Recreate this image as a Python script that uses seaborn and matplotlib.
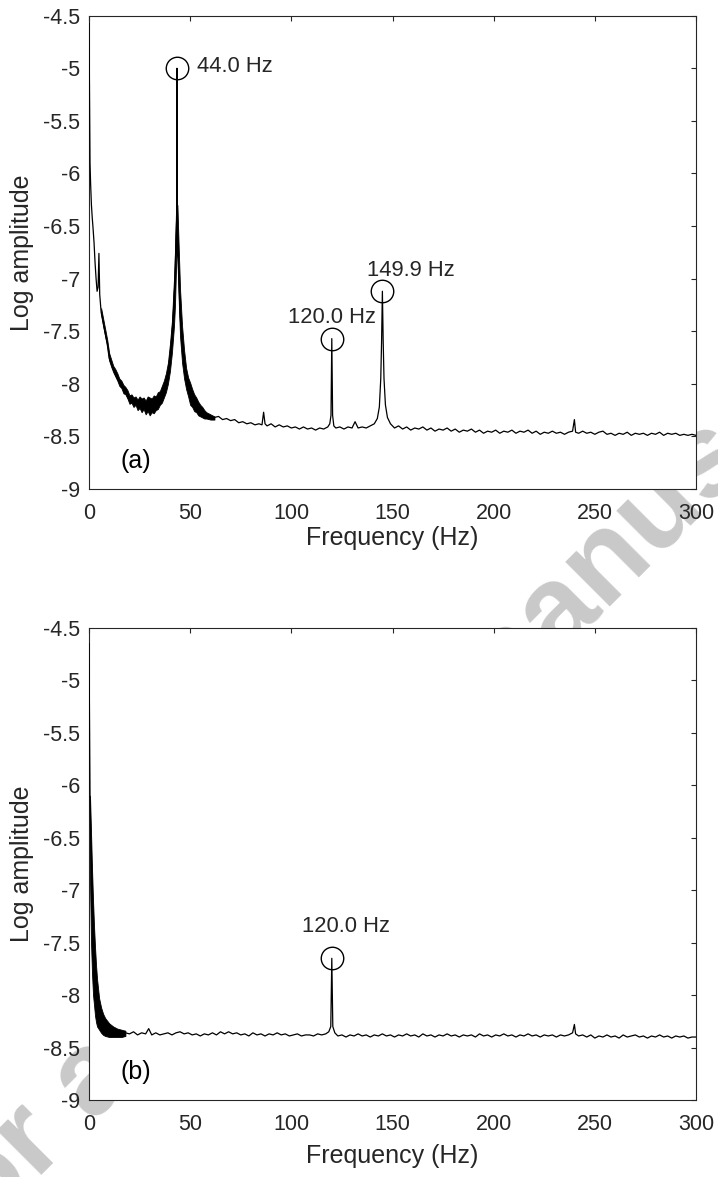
import numpy as np
import matplotlib
matplotlib.use("Agg")
import matplotlib.pyplot as plt
import seaborn as sns

# ---------------- data ----------------
# Panel (a): spectrum trace
freq_a = [0, 0.25, 0.5, 0.8, 1.2, 1.6, 2.0, 2.5, 3.0, 3.5, 4.0, 4.5, 4.9, 5.3, 6, 7, 8, 9, 10,
          12, 14, 16, 18, 20, 22, 24, 26, 28, 30, 32, 34, 36, 38, 39, 40, 41, 42, 42.5, 43, 43.3,
          43.5, 43.7, 44, 44.5, 45, 46, 47, 48, 50, 52, 55, 58, 60,
          62, 64, 66, 68, 70, 72, 74, 76, 78, 80, 82, 84, 85.5, 86.3, 87, 88, 90, 92, 94, 96, 98,
          100, 102, 104, 106, 108, 110, 112, 114, 116, 118, 119, 119.6, 120, 120.4, 121, 122,
          124, 126, 128, 130, 131.5, 133, 135, 137, 139, 141, 142.5, 143.5, 144.2, 144.6, 145,
          145.4, 145.8, 146.5, 147.5, 149, 151, 153, 155, 157, 159, 161, 163, 165, 167, 169, 171,
          173, 175, 177, 179, 181, 183, 185, 187, 189, 191, 193, 195, 197, 199, 201, 203, 205,
          207, 209, 211, 213, 215, 217, 219, 221, 223, 225, 227, 229, 231, 233, 235, 237, 239,
          239.9, 240.5, 242, 244, 246, 248, 250, 252, 254, 256, 258, 260, 262, 264, 266, 268,
          270, 272, 274, 276, 278, 280, 282, 284, 286, 288, 290, 292, 294, 296, 298, 300]
amp_a = [-4.57, -5.3, -5.9, -6.1, -6.3, -6.42, -6.52, -6.66, -6.85, -7.0, -7.12, -7.08, -6.76,
         -7.15, -7.32, -7.42, -7.52, -7.62, -7.76,
         -7.86, -7.95, -8.02, -8.08, -8.16, -8.18, -8.2, -8.21, -8.22, -8.22, -8.2, -8.16, -8.1,
         -7.99, -7.9, -7.75, -7.55, -7.22, -7.0, -6.6, -6.45,
         -5.0, -6.5, -6.75, -7.05, -7.33, -7.62, -7.82, -7.95, -8.1, -8.18, -8.26, -8.3, -8.31,
         -8.32, -8.31, -8.34, -8.33, -8.35, -8.34, -8.37, -8.36, -8.38, -8.37, -8.39, -8.38,
         -8.39, -8.27, -8.38, -8.40, -8.38, -8.41, -8.39, -8.41, -8.40,
         -8.42, -8.41, -8.43, -8.41, -8.43, -8.42, -8.44, -8.42, -8.43, -8.41, -8.38, -8.3,
         -7.57, -8.3, -8.4, -8.42,
         -8.41, -8.43, -8.41, -8.42, -8.36, -8.42, -8.41, -8.42, -8.40, -8.38, -8.33, -8.22,
         -7.95, -7.6, -7.12,
         -7.6, -7.95, -8.2, -8.32, -8.38, -8.42, -8.40, -8.43, -8.41, -8.44, -8.42, -8.43,
         -8.41, -8.44, -8.42, -8.45,
         -8.43, -8.44, -8.42, -8.45, -8.43, -8.46, -8.44, -8.45, -8.43, -8.46, -8.44, -8.47,
         -8.45, -8.46, -8.44, -8.47, -8.45,
         -8.46, -8.44, -8.47, -8.45, -8.46, -8.44, -8.47, -8.45, -8.48, -8.46, -8.47, -8.45,
         -8.47, -8.46, -8.48, -8.46, -8.45,
         -8.34, -8.46, -8.47, -8.45, -8.47, -8.46, -8.48, -8.46, -8.45, -8.48, -8.47, -8.49,
         -8.47, -8.48, -8.46, -8.49,
         -8.47, -8.48, -8.47, -8.49, -8.47, -8.48, -8.46, -8.49, -8.47, -8.48, -8.47, -8.49,
         -8.48, -8.49, -8.48, -8.49]

# Panel (a): thick noisy band around the low-frequency part and the 44 Hz peak
band_freq_a = [6, 7, 8, 9, 10, 11, 12, 13, 14, 15, 16, 17, 18, 19, 20, 21, 22, 23, 24, 25, 26,
               27, 28, 29, 30, 31, 32, 33, 34, 35, 36, 37, 38, 39, 40, 41, 42, 42.5, 43, 43.3,
               43.7, 44, 44.5, 45, 46, 47, 48, 49, 50, 51, 52, 53, 54, 55, 56, 57, 58, 60, 62]
band_hi_a = [-7.28, -7.38, -7.48, -7.58, -7.71, -7.77, -7.83, -7.86, -7.9, -7.95, -7.97, -8.01,
             -8.03, -8.06, -8.11, -8.1, -8.13, -8.12, -8.15, -8.12, -8.14, -8.13, -8.16, -8.12,
             -8.13, -8.14, -8.11, -8.12, -8.08, -8.07, -8.02, -7.97, -7.9, -7.8, -7.62, -7.4,
             -7.0, -6.75, -6.35, -6.3, -6.3, -6.5, -6.8, -7.1, -7.45, -7.68, -7.85, -7.94,
             -7.99, -8.05, -8.1, -8.13, -8.17, -8.2, -8.22, -8.25, -8.27, -8.29, -8.31]
band_lo_a = [-7.34, -7.45, -7.55, -7.64, -7.78, -7.84, -7.89, -7.93, -7.97, -8.02, -8.04, -8.09,
             -8.1, -8.14, -8.19, -8.18, -8.22, -8.2, -8.25, -8.23, -8.27, -8.24, -8.29, -8.26,
             -8.3, -8.27, -8.28, -8.25, -8.24, -8.2, -8.18, -8.13, -8.08, -8.0, -7.88, -7.7,
             -7.45, -7.25, -6.9, -6.7, -6.8, -7.0, -7.3, -7.55, -7.8, -7.95, -8.05, -8.12,
             -8.2, -8.22, -8.26, -8.27, -8.3, -8.31, -8.32, -8.33, -8.33, -8.34, -8.34]

# Panel (b): spectrum trace
freq_b = [0, 0.3, 0.5, 0.8, 1.2, 1.6, 2.0, 2.5, 3.0, 3.5, 4.0, 4.5, 5, 6, 7, 8, 9, 10, 12, 14,
          16, 18, 20, 22, 24, 26, 28, 29.5, 31, 33, 35, 37, 39, 41, 43, 45, 47, 49, 51, 53, 55,
          57, 59, 61, 63, 65, 67, 69, 71, 73, 75, 77, 79, 81, 83, 85, 87, 89, 91, 93, 95, 97, 99,
          101, 103, 105, 107, 109, 111, 113, 115, 117, 118.5, 119.5, 120, 120.5, 121.5, 123,
          125, 127, 129, 131, 133, 135, 137, 139, 141, 143, 145, 147, 149, 151, 153, 155, 157,
          159, 161, 163, 165, 167, 169, 171, 173, 175, 177, 179, 181, 183, 185, 187, 189, 191,
          193, 195, 197, 199, 201, 203, 205, 207, 209, 211, 213, 215, 217, 219, 221, 223, 225,
          227, 229, 231, 233, 235, 237, 239, 239.9, 240.5, 242, 244, 246, 248, 250, 252, 254,
          256, 258, 260, 262, 264, 266, 268, 270, 272, 274, 276, 278, 280, 282, 284, 286, 288,
          290, 292, 294, 296, 298, 300]
amp_b = [-4.65, -5.5, -6.1, -6.45, -6.75, -7.0, -7.25, -7.5, -7.7, -7.85, -7.97, -8.06, -8.12,
         -8.2, -8.24, -8.27, -8.29, -8.31, -8.33, -8.35,
         -8.36, -8.36, -8.37, -8.35, -8.38, -8.36, -8.37, -8.32, -8.38, -8.36, -8.38, -8.37,
         -8.36, -8.38, -8.36, -8.35, -8.37, -8.36, -8.38, -8.37, -8.39,
         -8.37, -8.38, -8.36, -8.38, -8.35, -8.37, -8.35, -8.37, -8.36, -8.38, -8.37, -8.39,
         -8.36, -8.38, -8.37, -8.39, -8.37, -8.38, -8.36, -8.38, -8.37, -8.39,
         -8.38, -8.37, -8.39, -8.38, -8.38, -8.39, -8.37, -8.38, -8.37, -8.35, -8.3, -7.65,
         -8.3, -8.36, -8.39,
         -8.38, -8.40, -8.38, -8.39, -8.37, -8.39, -8.38, -8.40, -8.38, -8.39, -8.37, -8.39,
         -8.38, -8.40, -8.38, -8.39, -8.37,
         -8.39, -8.38, -8.40, -8.37, -8.39, -8.38, -8.40, -8.38, -8.39, -8.37, -8.39, -8.38,
         -8.40, -8.38, -8.39, -8.38, -8.40,
         -8.37, -8.39, -8.38, -8.40, -8.38, -8.39, -8.37, -8.39, -8.38, -8.40, -8.38, -8.39,
         -8.37, -8.39, -8.38, -8.40, -8.38,
         -8.39, -8.38, -8.40, -8.38, -8.39, -8.38, -8.36, -8.28, -8.37, -8.39, -8.38, -8.40,
         -8.38, -8.41, -8.39, -8.40,
         -8.38, -8.40, -8.39, -8.41, -8.38, -8.40, -8.39, -8.38, -8.40, -8.39, -8.41, -8.39,
         -8.40, -8.38, -8.40, -8.39,
         -8.41, -8.39, -8.40, -8.39, -8.41, -8.40, -8.40]

band_freq_b = [0.5, 1, 1.5, 2, 2.5, 3, 3.5, 4, 5, 6, 7, 8, 10, 12, 14, 16, 18]
band_hi_b = [-6.1, -6.45, -6.8, -7.1, -7.35, -7.55, -7.72, -7.85, -8.03, -8.12, -8.18, -8.22,
             -8.27, -8.3, -8.32, -8.33, -8.34]
band_lo_b = [-6.9, -7.5, -7.8, -8.0, -8.1, -8.2, -8.26, -8.3, -8.33, -8.36, -8.38, -8.39,
             -8.4, -8.4, -8.4, -8.4, -8.39]

# Marked peaks
peak_freq_a = [43.5, 120.0, 145.0]
peak_amp_a = [-5.0, -7.57, -7.12]
peak_text_a = ["44.0 Hz", "120.0 Hz", "149.9 Hz"]
peak_freq_b = [120.0]
peak_amp_b = [-7.65]
peak_text_b = ["120.0 Hz"]

panel_tags = ["(a)", "(b)"]
x_ticks = [0, 50, 100, 150, 200, 250, 300]
y_ticks = [-9, -8.5, -8, -7.5, -7, -6.5, -6, -5.5, -5, -4.5]
y_ticklabels = ["-9", "-8.5", "-8", "-7.5", "-7", "-6.5", "-6", "-5.5", "-5", "-4.5"]
x_label = "Frequency (Hz)"
y_label = "Log amplitude"
watermark = "Author accepted manuscript"

# ---------------- styling ----------------
sns.set_style("white")
plt.rcParams["font.family"] = ["Liberation Sans", "DejaVu Sans"]
AX_COL = "#262626"

W, H = 718, 1177
fig = plt.figure(figsize=(W / 100, H / 100), dpi=100)
fig.patch.set_facecolor("white")

ax_a = fig.add_axes([89 / W, 1 - 489 / H, 607 / W, (489 - 15.7) / H])
ax_b = fig.add_axes([89 / W, 1 - 1100 / H, 607 / W, (1100 - 627.7) / H])

# watermark behind the axes
fig.text(-0.2893, -0.2104, watermark, rotation=45, rotation_mode="anchor",
         ha="left", va="baseline", fontsize=86, fontweight="bold",
         color="#c9c9c9", zorder=-5)


def style_axis(ax, xlab_y):
    ax.set_facecolor("white")
    ax.set_xlim(0, 300)
    ax.set_ylim(-9, -4.5)
    ax.set_xticks(x_ticks)
    ax.set_xticklabels([str(t) for t in x_ticks])
    ax.set_yticks(y_ticks)
    ax.set_yticklabels(y_ticklabels)
    for s in ax.spines.values():
        s.set_visible(True)
        s.set_color(AX_COL)
        s.set_linewidth(0.8)
    ax.tick_params(axis="both", which="major", direction="in", length=3.6, width=0.8,
                   color=AX_COL, labelcolor=AX_COL, labelsize=15.5,
                   top=True, right=True)
    ax.tick_params(axis="x", pad=10)
    ax.tick_params(axis="y", pad=6.5)
    ax.set_xlabel(x_label, fontsize=18, color=AX_COL)
    ax.set_ylabel(y_label, fontsize=18, color=AX_COL)
    ax.xaxis.set_label_coords(0.5, xlab_y)
    ax.xaxis.label.set_va("top")
    ax.yaxis.set_label_coords(-0.0914, 0.5)


# panel (a)
ax_a.fill_between(band_freq_a, band_lo_a, band_hi_a, color="black", linewidth=0.6, zorder=2)
sns.lineplot(x=freq_a, y=amp_a, ax=ax_a, color="black", linewidth=0.9, estimator=None, zorder=3)
ax_a.plot(peak_freq_a, peak_amp_a, linestyle="none", marker="o", ms=16.2,
          mfc="none", mec="black", mew=1.0, zorder=4)
ax_a.annotate(peak_text_a[0], (peak_freq_a[0], peak_amp_a[0]), xytext=(14.2, -2.4),
              textcoords="offset points", ha="left", va="baseline", fontsize=15.8)
ax_a.annotate(peak_text_a[1], (peak_freq_a[1], peak_amp_a[1]), xytext=(0, 11.2),
              textcoords="offset points", ha="center", va="baseline", fontsize=15.8)
ax_a.annotate(peak_text_a[2], (peak_freq_a[2], peak_amp_a[2]), xytext=(-11.3, 11.2),
              textcoords="offset points", ha="left", va="baseline", fontsize=15.8)
ax_a.text(15.6, -8.73, panel_tags[0], ha="left", va="center", fontsize=18, color="black")
style_axis(ax_a, -0.078)

# panel (b)
ax_b.fill_between(band_freq_b, band_lo_b, band_hi_b, color="black", linewidth=0.6, zorder=2)
sns.lineplot(x=freq_b, y=amp_b, ax=ax_b, color="black", linewidth=0.9, estimator=None, zorder=3)
ax_b.plot(peak_freq_b, peak_amp_b, linestyle="none", marker="o", ms=16.2,
          mfc="none", mec="black", mew=1.0, zorder=4)
ax_b.annotate(peak_text_b[0], (peak_freq_b[0], peak_amp_b[0]), xytext=(-21.6, 19.2),
              textcoords="offset points", ha="left", va="baseline", fontsize=15.8)
ax_b.text(15.6, -8.73, panel_tags[1], ha="left", va="center", fontsize=18, color="black")
style_axis(ax_b, -0.0924)

fig.savefig("out.png", dpi=100, facecolor="white")
